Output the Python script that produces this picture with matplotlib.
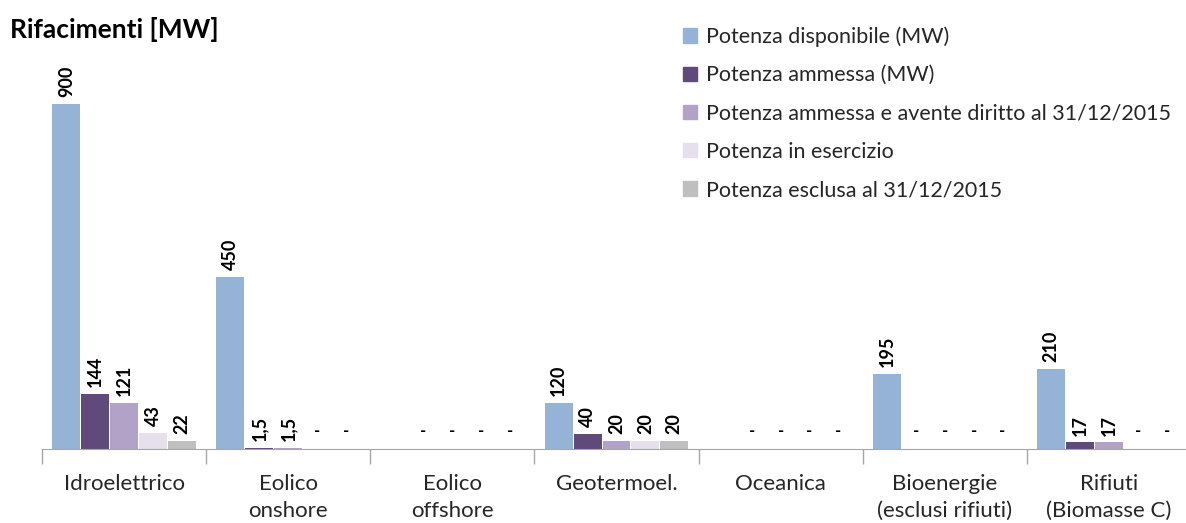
import numpy as np
import matplotlib.pyplot as plt
from matplotlib.patches import Patch

plt.rcParams['font.family'] = ['Lato', 'DejaVu Sans']

categories = ["Idroelettrico", "Eolico\nonshore", "Eolico\noffshore", "Geotermoel.",
              "Oceanica", "Bioenergie\n(esclusi rifiuti)", "Rifiuti\n(Biomasse C)"]
series = ["Potenza disponibile (MW)", "Potenza ammessa (MW)",
          "Potenza ammessa e avente diritto al 31/12/2015",
          "Potenza in esercizio", "Potenza esclusa al 31/12/2015"]
colors = ["#95B3D7", "#604A7B", "#B3A2C7", "#E6E0EC", "#BFBFBF"]

disponibile = [900, 450, 0, 120, 0, 195, 210]
ammessa = [144, 1.5, 0, 40, 0, 0, 17]
avente = [121, 1.5, 0, 20, 0, 0, 17]
esercizio = [43, 0, 0, 20, 0, 0, 0]
esclusa = [22, 0, 0, 20, 0, 0, 0]

lab_disponibile = ["900", "450", "", "120", "", "195", "210"]
lab_ammessa = ["144", "1,5", "-", "40", "-", "-", "17"]
lab_avente = ["121", "1,5", "-", "20", "-", "-", "17"]
lab_esercizio = ["43", "-", "-", "20", "-", "-", "-"]
lab_esclusa = ["22", "-", "-", "20", "-", "-", "-"]

values = [disponibile, ammessa, avente, esercizio, esclusa]
labels = [lab_disponibile, lab_ammessa, lab_avente, lab_esercizio, lab_esclusa]

W, H = 1186, 523
fig = plt.figure(figsize=(W / 100, H / 100), dpi=100)
ax = fig.add_axes([42 / W, 74 / H, 1149 / W, 429 / H])

x = np.arange(len(categories))
w = 0.176
for j, (vals, labs) in enumerate(zip(values, labels)):
    xs = x + (j - 2) * w
    ax.bar(xs, vals, width=w - 0.006, color=colors[j], label=series[j])
    for xi, v, lab in zip(xs, vals, labs):
        if lab == "":
            continue
        if lab == "-":
            ax.annotate("-", (xi, 0), xytext=(0, 13), textcoords="offset points",
                        ha="center", va="center", fontsize=12, fontweight="bold")
        else:
            ax.annotate(lab, (xi, v), xytext=(0, 5), textcoords="offset points",
                        ha="center", va="bottom", rotation=90,
                        fontsize=13, fontweight="bold")

ax.set_xlim(-0.5, len(categories) - 0.5)
ax.set_ylim(0, 429 / 0.3833)
ax.set_xticks(x)
ax.set_xticklabels(categories, fontsize=16, color="#262626", linespacing=1.45)
ax.tick_params(axis="x", which="major", length=0, pad=18)
ax.set_xticks(np.arange(-0.5, len(categories)), minor=True)
ax.tick_params(axis="x", which="minor", length=11, color="#A6A6A6", width=1)
ax.set_yticks([])
for s in ["top", "right", "left"]:
    ax.spines[s].set_visible(False)
ax.spines["bottom"].set_color("#A6A6A6")

fig.text(10 / W, 1 - 30 / H, "Rifacimenti [MW]", fontsize=19, fontweight="bold",
         va="center", ha="left")

handles = [Patch(color=c) for c in colors]
fig.legend(handles, series, loc="upper left", bbox_to_anchor=(664 / W, 1 - 7 / H),
           frameon=False, fontsize=15.5, handlelength=0.65, handleheight=0.65,
           handletextpad=0.4, labelspacing=0.85, labelcolor="#262626")

fig.savefig("out.png", dpi=100)
